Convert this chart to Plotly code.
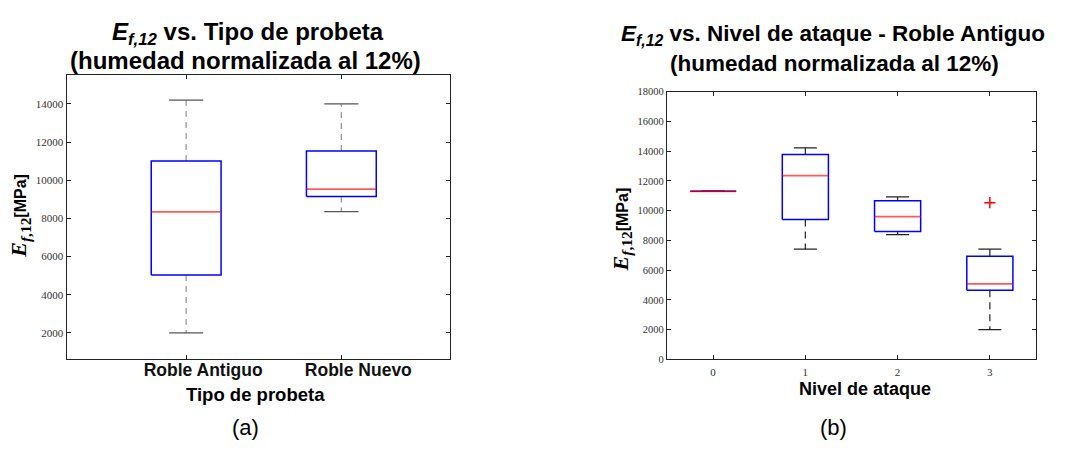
import plotly.graph_objects as go

# ---- data ----
left_categories = ["Roble Antiguo", "Roble Nuevo"]
left_lower = [2000, 8350]
left_q1 = [5030, 9140]
left_median = [8340, 9530]
left_q3 = [11000, 11525]
left_upper = [14200, 14000]

right_levels = [0, 1, 2, 3]
right_lower = [11300, 7410, 8390, 2000]
right_q1 = [11300, 9400, 8590, 4650]
right_median = [11300, 12350, 9590, 5070]
right_q3 = [11300, 13770, 10660, 6930]
right_upper = [11300, 14220, 10920, 7410]
right_outlier_x = [3]
right_outlier_y = [10530]

left_ticks_y = [2000, 4000, 6000, 8000, 10000, 12000, 14000]
right_ticks_y = [0, 2000, 4000, 6000, 8000, 10000, 12000, 14000, 16000, 18000]

BLUE = "#0000FF"
RED = "rgba(255,0,0,0.65)"


def box_traces(pos, lower, q1, med, q3, upper, bw, cw, xa, ya, wcol, wdash, capcol):
    bx, by, mx, my, wx, wy, cx, cy = [], [], [], [], [], [], [], []
    for p, lo, a, m, b, hi in zip(pos, lower, q1, med, q3, upper):
        wx += [p, p, None, p, p, None]
        wy += [b, hi, None, a, lo, None]
        cx += [p - cw / 2, p + cw / 2, None, p - cw / 2, p + cw / 2, None]
        cy += [hi, hi, None, lo, lo, None]
        bx += [p - bw / 2, p + bw / 2, p + bw / 2, p - bw / 2, p - bw / 2, None]
        by += [a, a, b, b, a, None]
        mx += [p - bw / 2, p + bw / 2, None]
        my += [m, m, None]
    common = dict(mode="lines", xaxis=xa, yaxis=ya, showlegend=False, hoverinfo="skip")
    return [
        go.Scatter(x=wx, y=wy, line=dict(color=wcol, width=1.3, dash=wdash), **common),
        go.Scatter(x=cx, y=cy, line=dict(color=capcol, width=1.3), **common),
        go.Scatter(x=bx, y=by, line=dict(color=BLUE, width=1.5), **common),
        go.Scatter(x=mx, y=my, line=dict(color=RED, width=1.8), **common),
    ]


fig = go.Figure()
left_pos = list(range(1, len(left_categories) + 1))
for t in box_traces(left_pos, left_lower, left_q1, left_median, left_q3, left_upper,
                    0.45, 0.22, "x", "y", "#999999", "6px,5px", "#555555"):
    fig.add_trace(t)
for t in box_traces(right_levels, right_lower, right_q1, right_median, right_q3, right_upper,
                    0.5, 0.25, "x2", "y2", "#333333", "7px,5px", "#222222"):
    fig.add_trace(t)
fig.add_trace(go.Scatter(x=right_outlier_x, y=right_outlier_y, mode="markers", xaxis="x2", yaxis="y2",
                         marker=dict(symbol="cross-thin", size=8, line=dict(color="#FF0000", width=1.5)),
                         showlegend=False, hoverinfo="skip"))

SANS = "Liberation Sans, Arial, sans-serif"
SERIF = "Liberation Serif, Times New Roman, serif"
tickfont = dict(family=SERIF, size=11, color="#333333")
axcommon = dict(showline=True, linecolor="#222222", linewidth=1.2, mirror="ticks", ticks="inside",
                ticklen=4, tickcolor="#222222", showgrid=False, zeroline=False)

fig.update_layout(
    width=1084, height=450, margin=dict(l=0, r=0, t=0, b=0),
    paper_bgcolor="white", plot_bgcolor="white",
    xaxis=dict(domain=[0.0615, 0.4151], range=[0.23, 2.70], tickvals=left_pos, ticktext=left_categories,
               tickfont=dict(family=SANS, size=17.5, color="#111111", weight="bold"),
               ticklabelshift=17, ticklabelstandoff=-5, anchor="y", **axcommon),
    yaxis=dict(domain=[0.1933, 0.84], range=[620, 15500], tickvals=left_ticks_y, tickformat="d",
               tickfont=tickfont, anchor="x", **axcommon),
    xaxis2=dict(domain=[0.6153, 0.9557], range=[-0.5, 3.5], tickvals=right_levels, tickfont=tickfont,
                ticklabelstandoff=2, anchor="y2", **axcommon),
    yaxis2=dict(domain=[0.1927, 0.8029], range=[0, 18000], tickvals=right_ticks_y, tickformat="d",
                tickfont=dict(family=SERIF, size=10.5, color="#333333"), anchor="x2", **axcommon),
)


def ann(text, x, y, size, bold=True, angle=0, family=SANS):
    fig.add_annotation(text=text, x=x / 1084, y=1 - y / 450, xref="paper", yref="paper",
                       showarrow=False, textangle=angle, xanchor="center", yanchor="middle",
                       font=dict(family=family, size=size, color="#000000",
                                 weight="bold" if bold else "normal"))


ann("<i>E</i><sub><i>f,12</i></sub> vs. Tipo de probeta", 248, 29, 24)
ann("(humedad normalizada al 12%)", 245, 57, 24)
ann("<i>E</i><sub><i>f,12</i></sub> vs. Nivel de ataque - Roble Antiguo", 833, 31, 22.5)
ann("(humedad normalizada al 12%)", 835, 60, 22.5)

ylab = ('<span style="font-family:Liberation Serif"><i>E</i><sub><i>f</i>,12</sub></span>'
        '<span style="font-size:16px">[MPa]</span>')
ann(ylab, 20, 216, 22, angle=-90)
ann(ylab, 622, 230, 22, angle=-90)

ann("Tipo de probeta", 255, 399, 18.5)
ann("Nivel de ataque", 865, 394, 18)

ann("(a)", 245, 433, 22, bold=False)
ann("(b)", 833, 433, 22, bold=False)

fig.write_html("out.html", post_script="document.body.style.margin='0';",
               config={"displayModeBar": False})
